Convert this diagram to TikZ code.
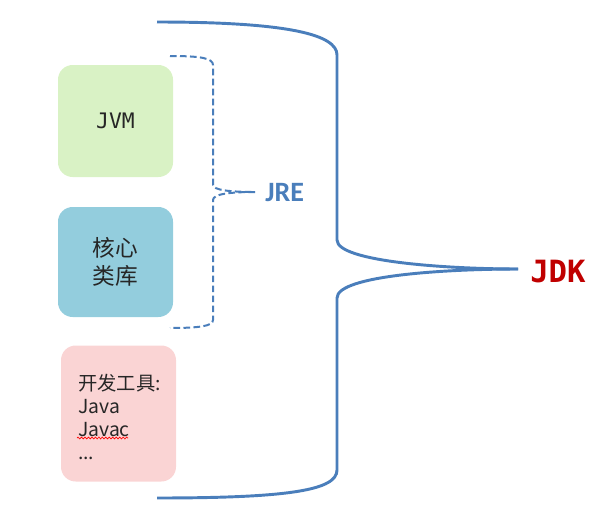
\documentclass[tikz,border=0pt]{standalone}
\usepackage{fontspec}
\setmainfont{Noto Sans CJK SC}
\newfontfamily\monofont{DejaVu Sans Mono}
\newfontfamily\carlito{Carlito}
\usetikzlibrary{decorations.pathmorphing}
\definecolor{braceblue}{HTML}{4A7EBB}
\definecolor{jdkred}{HTML}{C00000}
\definecolor{jvmgreen}{HTML}{D9F2C5}
\definecolor{libblue}{HTML}{93CDDD}
\definecolor{toolpink}{HTML}{FAD4D4}
\definecolor{textgray}{HTML}{262626}
\tikzset{
  box/.style={rounded corners=11pt, minimum width=86.25pt, text=textgray, inner sep=0pt},
  bigbrace/.style={draw=braceblue, line width=2.2pt},
  jrebrace/.style={draw=braceblue, line width=1.5pt, dash pattern=on 5pt off 2.5pt},
  spell/.style={draw=red, line width=0.5pt, decorate, decoration={snake, amplitude=0.7pt, segment length=2.6pt}}
}
\begin{document}
\begin{tikzpicture}[x=0.75pt,y=-0.75pt]
\useasboundingbox (0,0) rectangle (608,511);
% boxes
\node[box, fill=jvmgreen, minimum height=84pt, font=\monofont\fontsize{16}{19}\selectfont] (jvm) at (115.5,121) {JVM};
\node[box, fill=libblue, minimum height=82.5pt, align=center, font=\fontsize{17}{20.5}\selectfont] (lib) at (115.5,262) {核心\\类库};
\node[box, fill=toolpink, minimum height=102pt] (tools) at (118.5,413.5) {};
\node[text=textgray, align=left, inner sep=0pt, font=\fontsize{14.5}{17.25}\selectfont] (toolstext) at (119.5,417) {开发工具:\\Java\\Javac\\...};
% labels
\node[font=\carlito\bfseries\fontsize{21}{25}\selectfont, text=braceblue, anchor=west, inner sep=0pt] (jre) at (265,193) {JRE};
\node[font=\monofont\bfseries\fontsize{23}{27}\selectfont, text=jdkred, anchor=west, inner sep=0pt] (jdk) at (530,272) {JDK};
% brace tips and ends
\coordinate (jretip) at (255,192);
\coordinate (jretop) at (170,56);
\coordinate (jrebot) at (170,328);
\coordinate (jdktip) at (518,269);
\coordinate (jdktop) at (157,22);
\coordinate (jdkbot) at (157,498);
% JRE brace
\draw[jrebrace] (jretop) .. controls (200,56) and (213,58) .. (213,65) -- (213,185)
  .. controls (213,190) and (230,192) .. (jretip);
\draw[jrebrace] (jretip) .. controls (230,192) and (213,194) .. (213,200) -- (213,320)
  .. controls (213,326) and (200,328) .. (jrebot);
% JDK brace
\draw[bigbrace] (jdktop) .. controls (290,22) and (337,35) .. (337,55) -- (337,240)
  .. controls (337,262) and (450,269) .. (jdktip);
\draw[bigbrace] (jdktip) .. controls (450,269) and (337,275) .. (337,298) -- (337,470)
  .. controls (337,490) and (290,498) .. (jdkbot);
% spell-check underline
\draw[spell] (77,438) -- (128,438);
\end{tikzpicture}
\end{document}
